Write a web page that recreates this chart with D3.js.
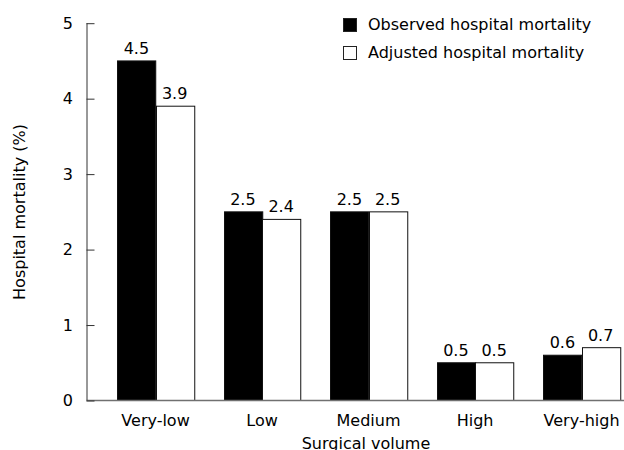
<!DOCTYPE html>
<html><head><meta charset="utf-8">
<script src="https://cdn.jsdelivr.net/npm/d3@7"></script>
<style>body{margin:0;background:#fff}svg{display:block}text{font-family:"DejaVu Sans",Verdana,sans-serif;fill:#000}</style>
</head><body><svg id="c" width="624" height="450"></svg>
<script>
const categories = ["Very-low", "Low", "Medium", "High", "Very-high"];
const series = ["Observed hospital mortality", "Adjusted hospital mortality"];
const observed = [4.5, 2.5, 2.5, 0.5, 0.6];
const adjusted = [3.9, 2.4, 2.5, 0.5, 0.7];
const yTicks = [0, 1, 2, 3, 4, 5];
const colors = ["#000000", "#ffffff"];

const svg = d3.select("#c");
const fs = 16;
const axisX = 86.5;
const y = d3.scaleLinear().domain([0, 5]).range([400.5, 23.2]);
const x0 = d3.scaleBand().domain(categories).range([102.3, 634.8]).paddingInner(0.2817).paddingOuter(0.1408);
const x1 = d3.scaleBand().domain(series).range([0, x0.bandwidth()]);

// bars
const data = categories.map((c, i) => ({c, vals: [observed[i], adjusted[i]]}));
const g = svg.append("g");
data.forEach(d => {
  d.vals.forEach((v, j) => {
    const xx = x0(d.c) + x1(series[j]);
    g.append("rect")
      .attr("x", Math.round(xx) + 0.5)
      .attr("y", y(v))
      .attr("width", x1.bandwidth())
      .attr("height", y(0) - y(v))
      .attr("fill", colors[j])
      .attr("stroke", "#111")
      .attr("stroke-width", 1);
    g.append("text")
      .attr("x", xx + x1.bandwidth() / 2)
      .attr("y", y(v) - 7)
      .attr("text-anchor", "middle")
      .attr("font-size", fs)
      .text(v.toFixed(1));
  });
});

// x axis line
svg.append("line").attr("x1", axisX).attr("x2", 624).attr("y1", y(0)).attr("y2", y(0))
  .attr("stroke", "#707070").attr("stroke-width", 1.3);

// y axis
const ya = d3.axisRight(y).tickValues(yTicks).tickSize(8).tickFormat("");
const yg = svg.append("g").attr("transform", `translate(${axisX},0)`).call(ya);
yg.select(".domain").attr("stroke", "#333").attr("d", `M0.5,${y(5)}V${y(0)}`);
yg.selectAll(".tick line").attr("stroke", "#333");
yTicks.forEach(t => {
  svg.append("text").attr("x", 73).attr("y", y(t)).attr("dy", "0.36em")
    .attr("text-anchor", "end").attr("font-size", fs).text(t);
});

// category labels
categories.forEach(c => {
  svg.append("text").attr("x", x0(c) + x0.bandwidth() / 2).attr("y", 425.5)
    .attr("text-anchor", "middle").attr("font-size", fs).text(c);
});

// axis titles
svg.append("text").attr("x", 366).attr("y", 448.5).attr("text-anchor", "middle")
  .attr("font-size", fs).text("Surgical volume");
svg.append("text").attr("transform", "translate(25,212) rotate(-90)")
  .attr("text-anchor", "middle").attr("font-size", fs).text("Hospital mortality (%)");

// legend
series.forEach((s, i) => {
  svg.append("rect").attr("x", 343.5).attr("y", 18.5 + i * 28).attr("width", 13).attr("height", 13)
    .attr("fill", colors[i]).attr("stroke", "#222").attr("stroke-width", 1);
  svg.append("text").attr("x", 368).attr("y", 30 + i * 28).attr("font-size", fs).text(s);
});
</script></body></html>
